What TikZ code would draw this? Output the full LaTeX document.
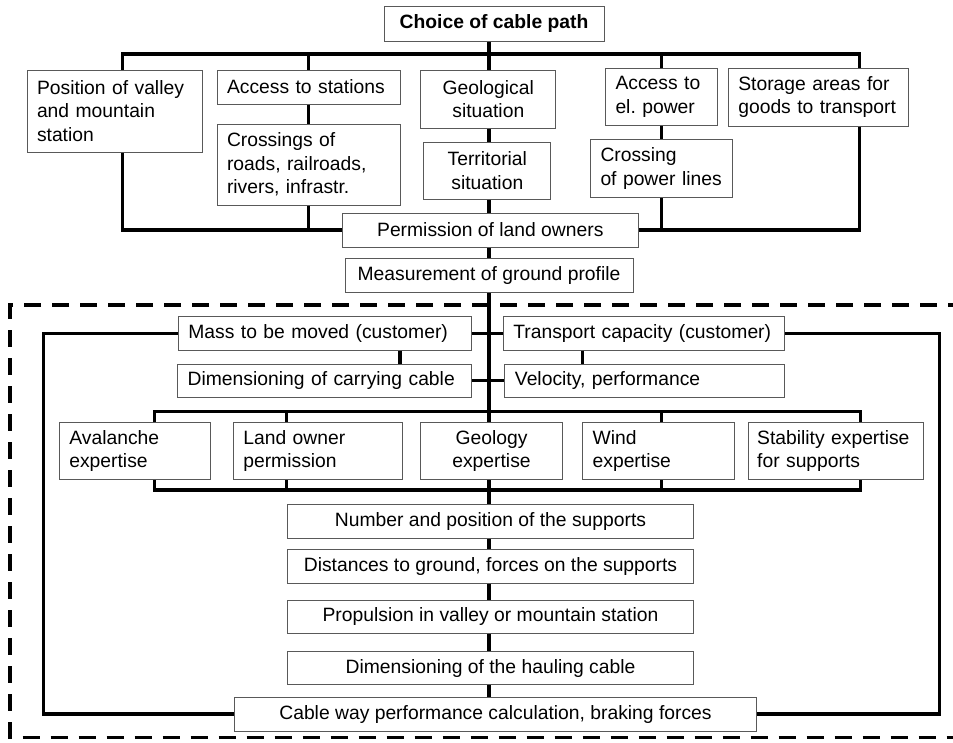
\documentclass[tikz,border=0pt]{standalone}
\usepackage{fontspec}
\setmainfont{Liberation Sans}
\usepackage{tikz}
\definecolor{boxgray}{gray}{0.35}
\tikzset{
    box/.style={draw=boxgray, line width=1pt, fill=white, inner xsep=10pt, inner ysep=0pt, align=center, font=\fontsize{19.3}{23.3}\selectfont}, % framed text
    lbox/.style={box, align=left}, % framed text, left aligned
    bus/.style={line width=3.3pt, line join=miter}, % thick black connectors
    outline/.style={line width=3.3pt, dash pattern=on 17pt off 11pt} % dashed frame
}

\begin{document}
\begin{tikzpicture}[x=1pt, y=-1pt]
    \useasboundingbox (0,0) rectangle (953,742);

    % choice of cable path
    \node[box, font=\fontsize{19.3}{23.3}\selectfont\bfseries, minimum width=220pt, minimum height=35pt] (choice) at (494,23.5) {Choice of cable path};
    \node[lbox, text width=155pt, minimum height=82pt] (pos) at (114.5,111) {Position of valley\\and mountain\\station};
    \node[lbox, text width=163pt, minimum height=34pt] (acc) at (308.5,87) {Access to stations};
    \node[lbox, text width=163pt, minimum height=81pt] (cross) at (308.5,164.5) {Crossings of\\roads, railroads,\\rivers, infrastr.};
    \node[box, minimum width=135pt, minimum height=58pt] (geol) at (488.3,99) {Geological\\situation};
    \node[box, minimum width=127pt, minimum height=57pt] (terr) at (487.3,170.5) {Territorial\\situation};
    \node[lbox, text width=92pt, minimum height=57pt] (elpow) at (661.5,97) {Access to\\el.\ power};
    \node[lbox, text width=122pt, minimum height=58pt] (crosspow) at (661.5,168.5) {Crossing\\of power lines};
    \node[lbox, text width=160pt, minimum height=58pt] (stor) at (818.3,97) {Storage areas for\\goods to transport};
    \node[box, minimum width=296pt, minimum height=34pt] (perm) at (490.3,230) {Permission of land owners};
    \node[box, minimum width=288pt, minimum height=34pt] (meas) at (489,275.7) {Measurement of ground profile};

    % customer data
    \node[lbox, text width=273.3pt, minimum height=33.5pt] (mass) at (325,333.3) {Mass to be moved (customer)};
    \node[lbox, text width=274pt, minimum height=33.5pt] (dimc) at (324.7,380.8) {Dimensioning of carrying cable};
    \node[lbox, text width=261.3pt, minimum height=33.5pt] (transp) at (644,333.3) {Transport capacity (customer)};
    \node[lbox, text width=259.7pt, minimum height=33.5pt] (velo) at (644.8,380.8) {Velocity, performance};

    % expertises
    \node[lbox, text width=131.3pt, minimum height=57.3pt] (aval) at (135,451.3) {Avalanche\\expertise};
    \node[lbox, text width=149.3pt, minimum height=57.3pt] (lown) at (318,451.3) {Land owner\\permission};
    \node[box, minimum width=141.7pt, minimum height=57.3pt] (geox) at (491.5,451.3) {Geology\\expertise};
    \node[lbox, text width=131.7pt, minimum height=57.3pt] (wind) at (658.5,451.3) {Wind\\expertise};
    \node[lbox, inner xsep=8.5pt, text width=158.3pt, minimum height=57.3pt] (stab) at (836.3,451.3) {Stability expertise\\for supports};

    % calculation chain
    \node[box, minimum width=406pt, minimum height=34pt] (num) at (490.5,521.3) {Number and position of the supports};
    \node[box, minimum width=406pt, minimum height=33.5pt] (dist) at (490.5,566.7) {Distances to ground, forces on the supports};
    \node[box, minimum width=406pt, minimum height=33.5pt] (prop) at (490.5,616.8) {Propulsion in valley or mountain station};
    \node[box, minimum width=406pt, minimum height=33.5pt] (dimh) at (490.5,668) {Dimensioning of the hauling cable};
    \node[box, minimum width=522.8pt, minimum height=34pt] (cable) at (495.5,714) {Cable way performance calculation, braking forces};

    % top tree
    \coordinate (tbL) at (122.7,54);
    \coordinate (tbR) at (859.3,54);
    \draw[bus] (pos.north -| tbL) -- (tbL) -- (tbR) -- (stor.north -| tbR);
    \draw[bus] (pos.south -| tbL) |- (perm.west);
    \draw[bus] (stor.south -| tbR) |- (perm.east);
    \foreach \a/\b in {acc/cross, elpow/crosspow} {
        \draw[bus] (\a.north) -- (\a.north |- tbL);
        \draw[bus] (\a.south) -- (\b.north);
        \draw[bus] (\b.south) -- (\b.south |- perm.west);
    }

    % spine
    \coordinate (sx) at (489,0);
    \foreach \a/\b in {choice/geol, geol/terr, terr/perm, perm/meas, meas/geox, geox/num, num/dist, dist/prop, prop/dimh, dimh/cable}
        \draw[bus] (\a.south -| sx) -- (\b.north -| sx);

    % customer rows
    \draw[bus] (mass.east) -- (transp.west);
    \draw[bus] (dimc.east) -- (velo.west);
    \draw[bus] ([xshift=75pt]mass.south) -- ([xshift=75.3pt]dimc.north);
    \draw[bus] ([xshift=-61.7pt]transp.south) -- ([xshift=-62.5pt]velo.north);

    % outer loop
    \coordinate (lx) at (43.3,0);
    \coordinate (rx) at (939.5,0);
    \draw[bus] (mass.west) -| (cable.west -| lx) -- (cable.west);
    \draw[bus] (transp.east) -| (cable.east -| rx) -- (cable.east);

    % expertise buses
    \coordinate (ebL) at (154.3,411.7);
    \coordinate (ebR) at (860.7,411.7);
    \coordinate (ebbL) at (154.3,490);
    \coordinate (ebbR) at (860.7,490);
    \draw[bus] (aval.north -| ebL) -- (ebL) -- (ebR) -- (stab.north -| ebR);
    \draw[bus] (aval.south -| ebL) -- (ebbL) -- (ebbR) -- (stab.south -| ebR);
    \foreach \n/\x in {lown/286.7, wind/661.7} {
        \coordinate (t) at (\x,411.7);
        \coordinate (b) at (\x,490);
        \draw[bus] (\n.north -| t) -- (t);
        \draw[bus] (\n.south -| b) -- (b);
    }

    % dashed frame
    \draw[outline] (965,305) -- (10,305) -- (10,737.5) -- (965,737.5);
\end{tikzpicture}
\end{document}
